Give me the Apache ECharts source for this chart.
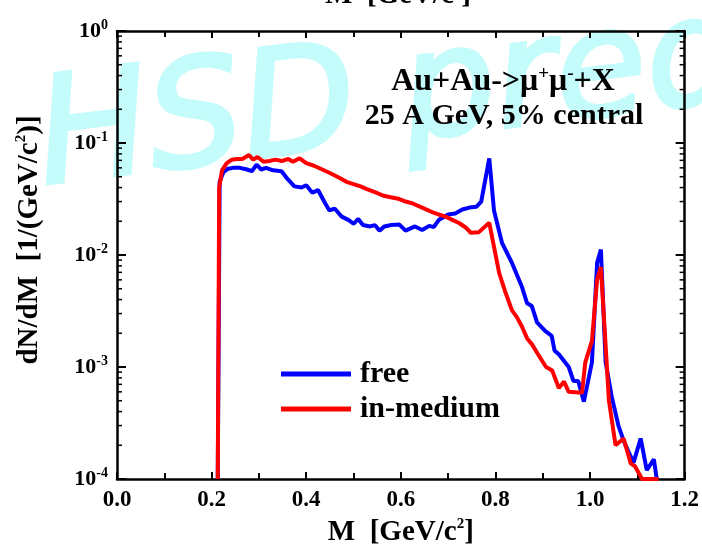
<!DOCTYPE html>
<html>
<head>
<meta charset="utf-8">
<script src="https://cdn.jsdelivr.net/npm/echarts@6/dist/echarts.min.js"></script>
<style>html,body{margin:0;padding:0;background:#fff}#c{width:702px;height:553px}</style>
</head>
<body>
<div id="c"></div>
<script>
// ---- data ----
const freeM = [0.213,0.217,0.225,0.235,0.245,0.26,0.275,0.285,0.295,0.305,0.315,0.33,0.348,0.36,0.375,0.39,0.40,0.413,0.425,0.44,0.449,0.46,0.475,0.49,0.50,0.51,0.52,0.535,0.545,0.555,0.565,0.58,0.597,0.61,0.63,0.645,0.66,0.67,0.68,0.70,0.715,0.73,0.745,0.76,0.77,0.787,0.797,0.814,0.835,0.856,0.867,0.877,0.888,0.905,0.919,0.925,0.934,0.955,0.965,0.975,0.987,1.004,1.015,1.023,1.033,1.046,1.06,1.071,1.08,1.092,1.107,1.12,1.135,1.141];
const freeV = [1e-4,0.045,0.055,0.059,0.060,0.060,0.058,0.056,0.064,0.058,0.060,0.057,0.056,0.048,0.041,0.040,0.042,0.036,0.038,0.029,0.025,0.026,0.022,0.0205,0.019,0.021,0.0185,0.018,0.0185,0.0165,0.018,0.0185,0.0187,0.0165,0.018,0.0167,0.0182,0.0178,0.0205,0.023,0.0235,0.0255,0.0265,0.027,0.030,0.073,0.025,0.0128,0.0085,0.0052,0.0037,0.0035,0.0025,0.0021,0.0019,0.0014,0.0013,0.0010,0.00075,0.00075,0.00049,0.0011,0.0085,0.0112,0.0011,0.00054,0.0003,0.00022,0.00018,0.00014,0.00023,0.00012,0.00015,1e-4];
const medM = [0.213,0.216,0.222,0.232,0.243,0.253,0.265,0.279,0.288,0.297,0.31,0.322,0.335,0.348,0.362,0.372,0.386,0.40,0.415,0.434,0.45,0.47,0.485,0.50,0.515,0.527,0.548,0.562,0.576,0.597,0.61,0.624,0.645,0.666,0.68,0.696,0.71,0.723,0.738,0.748,0.765,0.787,0.808,0.82,0.835,0.845,0.856,0.867,0.877,0.89,0.907,0.92,0.934,0.945,0.955,0.983,0.99,1.004,1.015,1.023,1.04,1.054,1.071,1.086,1.095,1.11,1.145];
const medV = [1e-4,0.040,0.057,0.066,0.071,0.072,0.072,0.078,0.071,0.075,0.068,0.069,0.071,0.069,0.072,0.068,0.073,0.066,0.063,0.058,0.054,0.049,0.045,0.043,0.041,0.039,0.036,0.034,0.033,0.0316,0.030,0.029,0.0265,0.0242,0.023,0.0219,0.0205,0.0193,0.0175,0.0158,0.016,0.0194,0.0069,0.0048,0.0032,0.0028,0.0023,0.0018,0.0016,0.0013,0.0010,0.00093,0.00065,0.00074,0.0006,0.00059,0.0011,0.0017,0.0060,0.0078,0.0005,0.0002,0.00023,0.000138,0.00013,1e-4,1e-4];
const seriesNames = ['free','in-medium'];
const xTickLabels = ['0.0','0.2','0.4','0.6','0.8','1.0','1.2'];
const yMin = 1e-4, yMax = 1;
const minorVals = [];
for (let e = -4; e < 0; e++) for (let k = 2; k <= 9; k++) minorVals.push(k * Math.pow(10, e));

const FF = '"Liberation Serif","Times New Roman",serif';
const chart = echarts.init(document.getElementById('c'));
const sup = {fontSize: 15, fontWeight: 'bold', fontFamily: FF, verticalAlign: 'top', color: '#000'};
function pairs(a, b) { return a.map((x, i) => [x, b[i]]); }

const axisLine = {show: true, onZero: false, lineStyle: {color: '#000', width: 2.5}};
chart.setOption({
  animation: false,
  grid: {left: 117, right: 16, top: 31, bottom: 74},
  graphic: [
    {type: 'text', z: -100, left: 28, top: -75, rotation: 7 * Math.PI / 180,
     style: {text: 'HSD predictions', font: 'italic 148px "DejaVu Sans", sans-serif', fill: '#c4fbfb',
       stroke: '#c4fbfb', lineWidth: 4, lineJoin: 'round'}},
    {type: 'text', z: 10, x: 398, y: 12,
     style: {text: '{b|M  [GeV/c}{s|2}{b|]}', align: 'center', verticalAlign: 'bottom',
       rich: {b: {fontSize: 29, fontWeight: 'bold', fontFamily: FF, lineHeight: 32}, s: sup}}},
    {type: 'text', z: 10, x: 503, y: 82,
     style: {text: '{b|Au+Au->μ}{s|+}{b|μ}{s|-}{b|+X}', align: 'center', verticalAlign: 'middle',
       rich: {b: {fontSize: 32, fontWeight: 'bold', fontFamily: FF, lineHeight: 34}, s: {fontSize: 19, fontWeight: 'bold', fontFamily: FF, verticalAlign: 'top', color: '#000'}}}},
    {type: 'text', z: 10, x: 504, y: 116,
     style: {text: '25 A GeV, 5% central', align: 'center', verticalAlign: 'middle',
       font: 'bold 30px ' + FF, fill: '#000'}},
    {type: 'text', z: 10, x: 30, y: 240, rotation: Math.PI / 2,
     style: {text: '{b|dN/dM  [1/(GeV/c}{s|2}{b|)]}', align: 'center', verticalAlign: 'middle',
       rich: {b: {fontSize: 29, fontWeight: 'bold', fontFamily: FF, lineHeight: 32}, s: sup}}}
  ],
  legend: {
    left: 276, top: 354, orient: 'vertical', itemWidth: 70, itemHeight: 5, itemGap: 5,
    icon: 'rect', data: seriesNames,
    textStyle: {fontSize: 30, fontWeight: 'bold', fontFamily: FF, color: '#000', padding: [0, 0, 0, 4]}
  },
  xAxis: [
    {type: 'value', min: 0, max: 1.2, interval: 0.2, position: 'bottom',
     name: '{b|M  [GeV/c}{s|2}{b|]}', nameLocation: 'middle', nameGap: 30,
     nameTextStyle: {rich: {b: {fontSize: 29, fontWeight: 'bold', fontFamily: FF, lineHeight: 32, color: '#000'}, s: sup}},
     axisLine, axisTick: {inside: true, length: 7, lineStyle: {color: '#000', width: 2}},
     minorTick: {show: true, splitNumber: 2, length: 6, lineStyle: {color: '#000', width: 2}},
     splitLine: {show: false},
     axisLabel: {margin: 10, fontSize: 23, fontWeight: 'bold', fontFamily: FF, color: '#000',
       formatter: v => xTickLabels[Math.round(v / 0.2)]}},
    {type: 'value', min: 0, max: 1.2, interval: 0.2, position: 'top',
     axisLine, axisTick: {inside: true, length: 7, lineStyle: {color: '#000', width: 2}},
     minorTick: {show: true, splitNumber: 2, length: 6, lineStyle: {color: '#000', width: 2}},
     splitLine: {show: false}, axisLabel: {show: false}}
  ],
  yAxis: [
    {type: 'log', logBase: 10, min: yMin, max: yMax, position: 'left',
     axisLine, axisTick: {inside: true, length: 9, lineStyle: {color: '#000', width: 2}},
     splitLine: {show: false},
     axisLabel: {margin: 9, formatter: v => '{b|10}{s|' + Math.round(Math.log10(v)) + '}',
       rich: {b: {fontSize: 22, fontWeight: 'bold', fontFamily: FF, lineHeight: 26, color: '#000'},
              s: {fontSize: 14, fontWeight: 'bold', fontFamily: FF, verticalAlign: 'top', color: '#000'}}}},
    {type: 'log', logBase: 10, min: yMin, max: yMax, position: 'right',
     axisLine, axisTick: {inside: true, length: 9, lineStyle: {color: '#000', width: 2}},
     splitLine: {show: false}, axisLabel: {show: false}}
  ],
  series: [
    {name: seriesNames[0], type: 'line', data: pairs(freeM, freeV), showSymbol: false, symbol: 'none',
     lineStyle: {color: '#0000ff', width: 4}, itemStyle: {color: '#0000ff'}, z: 3, clip: true},
    {name: seriesNames[1], type: 'line', data: pairs(medM, medV), showSymbol: false, symbol: 'none',
     lineStyle: {color: '#ff0000', width: 4}, itemStyle: {color: '#ff0000'}, z: 4, clip: true},
    {type: 'custom', data: minorVals, z: 5, silent: true, legendHoverLink: false,
     renderItem: function (params, api) {
       const v = api.value(0);
       const pl = api.coord([0, v]);
       const pr = api.coord([1.2, v]);
       return {type: 'group', children: [
         {type: 'line', shape: {x1: pl[0], y1: pl[1], x2: pl[0] + 5, y2: pl[1]}, style: {stroke: '#000', lineWidth: 1.5}},
         {type: 'line', shape: {x1: pr[0], y1: pr[1], x2: pr[0] - 5, y2: pr[1]}, style: {stroke: '#000', lineWidth: 1.5}}
       ]};
     },
     encode: {y: 0}}
  ]
});
</script>
</body>
</html>
